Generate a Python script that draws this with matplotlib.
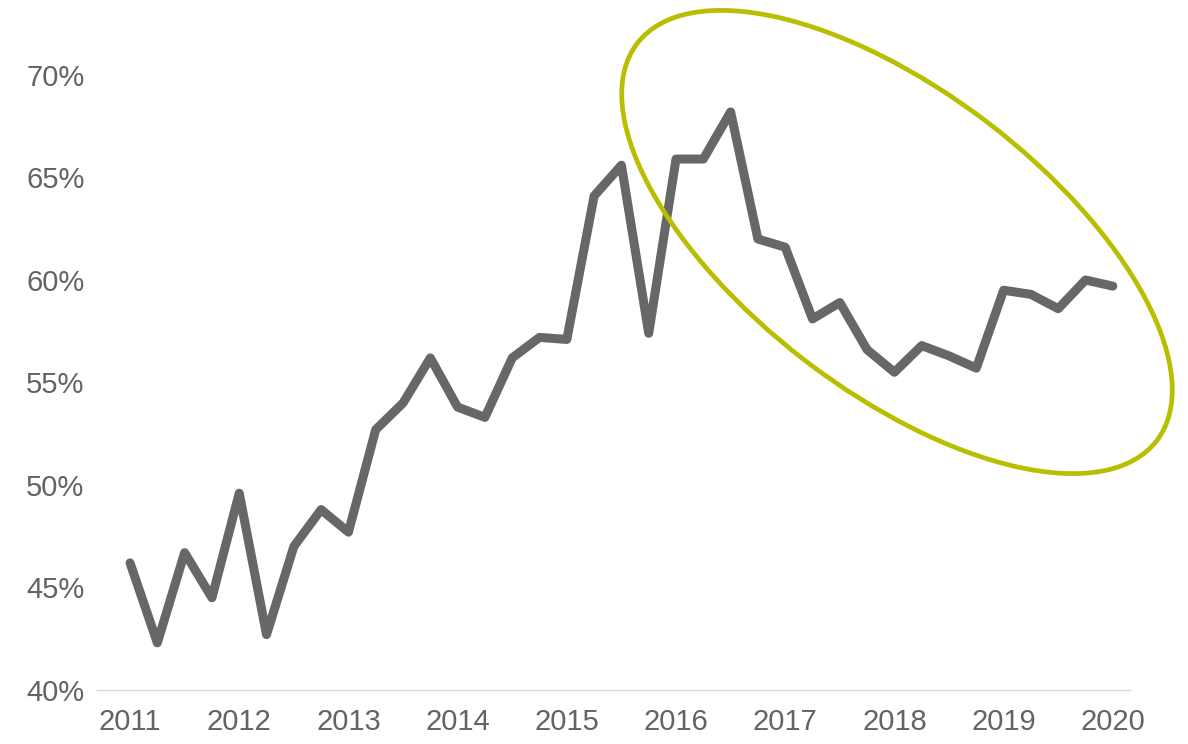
import matplotlib
matplotlib.use("Agg")
import matplotlib.pyplot as plt
from matplotlib.patches import Ellipse
from matplotlib.transforms import IdentityTransform
import numpy as np

# Quarterly share, 2011 Q1 .. 2020 Q1
values = [
    46.2, 42.3, 46.7, 44.5,
    49.6, 42.7, 47.0, 48.8,
    47.7, 52.7, 54.0, 56.2,
    53.8, 53.3, 56.2, 57.2,
    57.1, 64.1, 65.6, 57.4,
    65.9, 65.9, 68.2, 62.0,
    61.6, 58.1, 58.9, 56.6,
    55.5, 56.8, 56.3, 55.7,
    59.5, 59.3, 58.6, 60.0,
    59.7,
]
year_labels = ["2011", "2012", "2013", "2014", "2015",
               "2016", "2017", "2018", "2019", "2020"]
y_ticks = [40, 45, 50, 55, 60, 65, 70]

W, H, DPI = 1188, 744, 100
plt.rcParams["font.family"] = ["Liberation Sans", "DejaVu Sans"]

fig = plt.figure(figsize=(W / DPI, H / DPI), dpi=DPI)
ax = fig.add_axes([97 / W, 54 / H, 1033 / W, 615 / H])

x = np.arange(len(values))
ax.plot(x, np.array(values) / 100, color="#676767", lw=6.5,
        solid_capstyle="round", solid_joinstyle="round", zorder=3)

ax.set_xlim(-1.21, 36.63)
ax.set_ylim(0.40, 0.70)

ax.set_yticks([v / 100 for v in y_ticks])
ax.set_yticklabels([f"{v}%" for v in y_ticks])
ax.set_xticks(np.arange(0, len(values), 4))
ax.set_xticklabels(year_labels)

ax.tick_params(axis="both", length=0, labelsize=21, labelcolor="#636363")
ax.tick_params(axis="y", pad=9)
ax.tick_params(axis="x", pad=13)

for side in ("top", "right", "left"):
    ax.spines[side].set_visible(False)
ax.spines["bottom"].set_color("#d9d9d9")
ax.spines["bottom"].set_linewidth(1.0)

# Highlight ring around the 2016-2020 period (pixel space)
ring = Ellipse((897, H - 242), width=654, height=300, angle=-37.4,
               transform=IdentityTransform(), fill=False,
               edgecolor="#b8be00", lw=3.4, zorder=4)
fig.patches.append(ring)

fig.savefig("out.png", dpi=DPI)
